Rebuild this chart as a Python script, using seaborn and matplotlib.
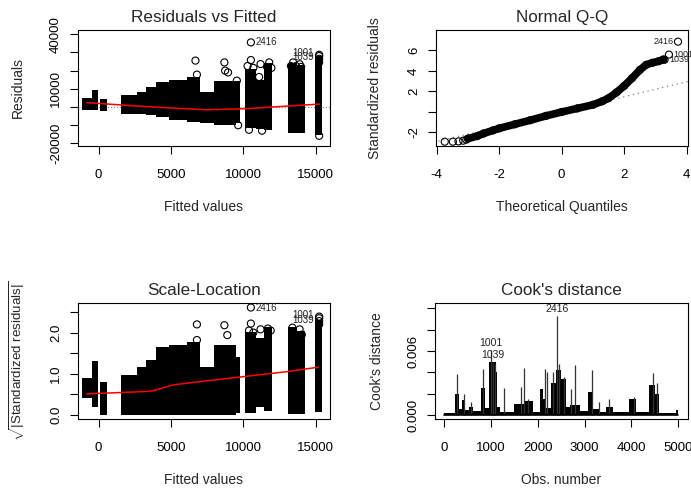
import numpy as np
import pandas as pd
import matplotlib
matplotlib.use("Agg")
import matplotlib.pyplot as plt
import seaborn as sns

# ---------------- data ----------------
# Residuals vs Fitted : dense vertical columns of points (outer edges)
col_from = [-1130, -440, 120, 1570, 2670, 3300, 4000, 4900, 6100, 7000, 7950, 9500, 10120, 10900, 11450, 13100, 13700, 14960]
col_to   = [-230, -20, 600, 2670, 3300, 4000, 4900, 6100, 7000, 7950, 9500, 9800, 10900, 11450, 12000, 13700, 14280, 15460]
res_top  = [5000, 9500, 4500, 6400, 8500, 11000, 14000, 15000, 16500, 8000, 14500, 14500, 21000, 15000, 24000, 24000, 23000, 28000]
res_bot  = [-1800, -1500, -2200, -3600, -4000, -4500, -5500, -7000, -8000, -8500, -10000, -9000, -11500, -12000, -12500, -14500, -14500, -15500]
# sparse points around the columns
res_out_x = [6700, 6800, 8700, 8750, 8950, 9560, 10300, 10530, 10700, 11100, 11200, 11650, 11800, 11950,
             13300, 13450, 13650, 13900, 14000, 15250, 15250, 15250, 9650, 10400, 11300]
res_out_y = [25500, 17800, 24500, 20000, 19000, 14500, 22500, 25800, 21500, 16500, 23600, 22000, 24500, 21500,
             22500, 24500, 22500, 23500, 22000, 26500, 24500, -15800, -10000, -12500, -13000]
# lowess line
res_smooth_x = [-800, 2400, 4700, 7500, 10250, 12800, 15250]
res_smooth_y = [2400, 700, -400, -1500, -900, 400, 1600]

# labelled observations
lab_ids    = ["2416", "1001", "1039"]
lab_fitted = [10530, 15250, 15250]
lab_resid  = [35500, 28700, 28000]
lab_sqrt   = [2.61, 2.39, 2.35]
lab_theo   = [3.72, 3.43, 3.29]
lab_std    = [6.86, 5.60, 5.10]

# Scale-Location columns (same fitted columns)
sl_top = [0.89, 1.32, 0.81, 0.97, 1.17, 1.33, 1.65, 1.70, 1.78, 1.17, 1.70, 1.40, 2.02, 1.86, 2.14, 2.14, 2.05, 2.30]
sl_bot = [0.40, 0.20, 0.00, 0.00, 0.00, 0.00, 0.00, 0.00, 0.00, 0.00, 0.00, 0.05, 0.05, 0.20, 0.10, 0.02, 0.02, 0.08]
sl_out_x = [6800, 6800, 8700, 8900, 10400, 10530, 10700, 11200, 11700, 11900, 13400, 13900, 14050, 15250, 15250]
sl_out_y = [2.20, 1.82, 2.18, 1.94, 2.05, 2.22, 2.00, 2.08, 2.10, 2.05, 2.12, 2.08, 1.95, 2.28, 2.20]
sl_smooth_x = [-800, 3340, 3800, 5180, 7030, 10020, 13000, 15200]
sl_smooth_y = [0.51, 0.57, 0.59, 0.73, 0.81, 0.93, 1.05, 1.16]

# Normal Q-Q
qq_theo = [-3.0, -2.7, -2.5, -2.2, -2.0, -1.5, -1.0, -0.5, 0.0, 0.5, 1.0, 1.3, 1.5, 1.75, 2.0, 2.25, 2.5, 2.7, 2.9, 3.1, 3.25]
qq_std  = [-2.6, -2.35, -2.1, -1.8, -1.6, -1.2, -0.8, -0.38, 0.0, 0.35, 0.7, 1.05, 1.35, 1.9, 2.55, 3.3, 4.1, 4.6, 4.8, 4.95, 5.12]
qq_tail_theo = [-3.74, -3.48, -3.30, -3.15, -3.05]
qq_tail_std  = [-2.90, -2.90, -2.87, -2.80, -2.70]
qq_line_intercept = 0.03
qq_line_slope = 0.73

# Cook's distance: dense mass (segment start, height) and single tall spikes
cook_seg_start  = [0, 235, 306, 380, 440, 520, 620, 780, 860, 960, 1100, 1130, 1200, 1500, 1620, 1700, 1900, 2050, 2120, 2180, 2280, 2400, 2500, 2600, 2700, 2900, 3080, 3180, 3300, 3450, 3600, 3950, 4100, 4380, 4500, 4600, 4950]
cook_seg_height = [0.0002, 0.0020, 0.0006, 0.0014, 0.0005, 0.0008, 0.0004, 0.0025, 0.0007, 0.0050, 0.0040, 0.0008, 0.0003, 0.0010, 0.0010, 0.0013, 0.0003, 0.0024, 0.0015, 0.0007, 0.0030, 0.0042, 0.0034, 0.0008, 0.0009, 0.0004, 0.0022, 0.0006, 0.0003, 0.0008, 0.0003, 0.0015, 0.0003, 0.0028, 0.0020, 0.0002, 0.0005]
cook_n = 5000
spike_obs = [280, 420, 560, 830, 1001, 1039, 1080, 1270, 1640, 1700, 1780, 2160, 2200, 2315, 2416, 2460, 2560, 2710, 2790, 3150, 3300, 3530, 4050, 4470, 4560]
spike_val = [0.0038, 0.0020, 0.0012, 0.0043, 0.0061, 0.0050, 0.0048, 0.0025, 0.0026, 0.0044, 0.0015, 0.0043, 0.0040, 0.0040, 0.0093, 0.0048, 0.0036, 0.0024, 0.0047, 0.0042, 0.0012, 0.0015, 0.0017, 0.0039, 0.0030]
cook_lab_ids = ["2416", "1001", "1039"]

# ---------------- style ----------------
sns.set_style("white")
plt.rcParams["font.family"] = ["Liberation Sans", "DejaVu Sans"]
plt.rcParams["mathtext.fontset"] = "custom"
plt.rcParams["mathtext.rm"] = "Liberation Sans"
plt.rcParams["mathtext.it"] = "Liberation Sans:italic"
plt.rcParams["axes.unicode_minus"] = False
plt.rcParams["axes.edgecolor"] = "black"
plt.rcParams["axes.linewidth"] = 0.8

W, H = 691, 491
fig = plt.figure(figsize=(W / 100, H / 100), dpi=100)
fig.patch.set_facecolor("white")

def box(l, t, w, h):
    return fig.add_axes([l / W, (H - t - h) / H, w / W, h / H])

ax1 = box(78, 30, 252, 116)
ax2 = box(436, 30, 252, 116)
ax3 = box(78, 303, 252, 116)
ax4 = box(435, 303, 253, 116)

TITLE = 12.3
LAB = 10
TICK = 9.5
PT = 7

def style(ax, title, xlabel, ylabel, ylx):
    for s in ax.spines.values():
        s.set_visible(True)
        s.set_color("black")
        s.set_linewidth(0.8)
    ax.tick_params(direction="out", length=5.5, width=0.8, pad=6, labelsize=TICK,
                   colors="black", bottom=True, left=True)
    ax.tick_params(axis="x", pad=11)
    for lab in ax.get_yticklabels():
        lab.set_rotation(90)
        lab.set_va("center")
    ax.text(0.5, 1.105, title, transform=ax.transAxes, ha="center", va="center",
            fontsize=TITLE)
    ax.set_xlabel(xlabel, fontsize=LAB)
    ax.set_ylabel(ylabel, fontsize=LAB)
    ax.xaxis.set_label_coords(0.5, -0.526)
    ax.xaxis.label.set_va("center")
    ax.yaxis.set_label_coords(ylx, 0.5)
    ax.yaxis.label.set_va("center")
    ax.grid(False)

def circles(ax, x, y):
    sns.scatterplot(x=x, y=y, ax=ax, s=26, marker="o", facecolors="none",
                    edgecolor="black", linewidth=0.8, legend=False, zorder=3)

centers = [(a + b) / 2 for a, b in zip(col_from, col_to)]
widths = [b - a for a, b in zip(col_from, col_to)]

# ---- Panel 1: Residuals vs Fitted ----
ax1.axhline(0, color="gray", ls=":", lw=0.8, zorder=1)
ax1.bar(centers, [t - b for t, b in zip(res_top, res_bot)], bottom=res_bot,
        width=widths, color="black", linewidth=0, zorder=2)
circles(ax1, res_out_x, res_out_y)
circles(ax1, lab_fitted, lab_resid)
sns.lineplot(x=res_smooth_x, y=res_smooth_y, ax=ax1, color="red", lw=1.1, zorder=4)
ax1.set_xlim(-1420, 16000)
ax1.set_ylim(-21400, 42300)
ax1.set_xticks([0, 5000, 10000, 15000])
ax1.set_xticklabels(["0", "5000", "10000", "15000"])
ax1.set_yticks([-20000, -10000, 0, 10000, 20000, 30000, 40000])
ax1.set_yticklabels(["-20000", "", "", "10000", "", "", "40000"])
ax1.text(lab_fitted[0] + 350, lab_resid[0], lab_ids[0], fontsize=PT, va="center", ha="left", color="#222222")
ax1.text(lab_fitted[1] - 350, lab_resid[1] + 800, lab_ids[1], fontsize=PT, va="center", ha="right", color="#222222")
ax1.text(lab_fitted[2] - 350, lab_resid[2] - 800, lab_ids[2], fontsize=PT, va="center", ha="right", color="#222222")
style(ax1, "Residuals vs Fitted", "Fitted values", "Residuals", -0.238)

# ---- Panel 2: Normal Q-Q ----
xs = np.array([-4.1, 4.2])
ax2.plot(xs, qq_line_intercept + qq_line_slope * xs, color="gray", ls=(0, (1, 3)), lw=0.9, zorder=1)
sns.lineplot(x=qq_theo, y=qq_std, ax=ax2, color="black", lw=5.5, zorder=2, sort=False)
circles(ax2, qq_tail_theo, qq_tail_std)
circles(ax2, qq_theo, qq_std)
circles(ax2, lab_theo, lab_std)
ax2.set_xlim(-4.02, 4.04)
ax2.set_ylim(-3.32, 8.0)
ax2.set_xticks([-4, -2, 0, 2, 4])
ax2.set_xticklabels(["-4", "-2", "0", "2", "4"])
ax2.set_yticks([-2, 0, 2, 4, 6])
ax2.set_yticklabels(["-2", "", "2", "4", "6"])
ax2.text(lab_theo[0] - 0.15, lab_std[0], lab_ids[0], fontsize=PT - 0.5, ha="right", va="center", color="#222222")
ax2.text(lab_theo[1] + 0.15, lab_std[1], lab_ids[1], fontsize=PT - 0.5, ha="left", va="center", color="#222222", clip_on=False)
ax2.text(lab_theo[2] + 0.15, lab_std[2], lab_ids[2], fontsize=PT - 0.5, ha="left", va="center", color="#222222", clip_on=False)
style(ax2, "Normal Q-Q", "Theoretical Quantiles", "Standardized residuals", -0.242)

# ---- Panel 3: Scale-Location ----
ax3.bar(centers, [t - b for t, b in zip(sl_top, sl_bot)], bottom=sl_bot,
        width=widths, color="black", linewidth=0, zorder=2)
circles(ax3, sl_out_x, sl_out_y)
circles(ax3, lab_fitted, lab_sqrt)
sns.lineplot(x=sl_smooth_x, y=sl_smooth_y, ax=ax3, color="red", lw=1.1, zorder=4)
ax3.set_xlim(-1420, 16000)
ax3.set_ylim(-0.1, 2.72)
ax3.set_xticks([0, 5000, 10000, 15000])
ax3.set_xticklabels(["0", "5000", "10000", "15000"])
ax3.set_yticks([0, 0.5, 1.0, 1.5, 2.0, 2.5])
ax3.set_yticklabels(["0.0", "", "1.0", "", "2.0", ""])
ax3.text(lab_fitted[0] + 350, lab_sqrt[0], lab_ids[0], fontsize=PT, va="center", ha="left", color="#222222")
ax3.text(lab_fitted[1] - 350, lab_sqrt[1] + 0.03, lab_ids[1], fontsize=PT, va="center", ha="right", color="#222222")
ax3.text(lab_fitted[2] - 350, lab_sqrt[2] - 0.04, lab_ids[2], fontsize=PT, va="center", ha="right", color="#222222")
style(ax3, "Scale-Location", "Fitted values", r"$\sqrt{|\mathrm{Standardized\ residuals}|}$", -0.24)
ax3.yaxis.label.set_fontsize(9.6)

# ---- Panel 4: Cook's distance ----
seg_x = cook_seg_start + [cook_n]
seg_y = cook_seg_height + [cook_seg_height[-1]]
ax4.fill_between(seg_x, 0, seg_y, step="post", color="black", linewidth=0, zorder=2)
ax4.vlines(spike_obs, 0, spike_val, color="#333333", lw=0.9, zorder=3)
ax4.axhline(0, color="black", lw=1.2, xmin=(0 + 200) / 5415, xmax=(5000 + 200) / 5415, zorder=3)
for lid in cook_lab_ids:
    i = spike_obs.index(int(lid))
    ax4.text(spike_obs[i], spike_val[i] + 0.00015, lid, fontsize=PT + 0.5, ha="center",
             va="bottom", color="#222222")
ax4.set_xlim(-200, 5215)
ax4.set_ylim(-0.00037, 0.0105)
ax4.set_xticks([0, 1000, 2000, 3000, 4000, 5000])
ax4.set_xticklabels(["0", "1000", "2000", "3000", "4000", "5000"])
ax4.set_yticks([0, 0.002, 0.004, 0.006, 0.008, 0.010])
ax4.set_yticklabels(["0.000", "", "", "0.006", "", ""])
style(ax4, "Cook's distance", "Obs. number", "Cook's distance", -0.229)

fig.savefig("out.png", dpi=100, facecolor="white")
